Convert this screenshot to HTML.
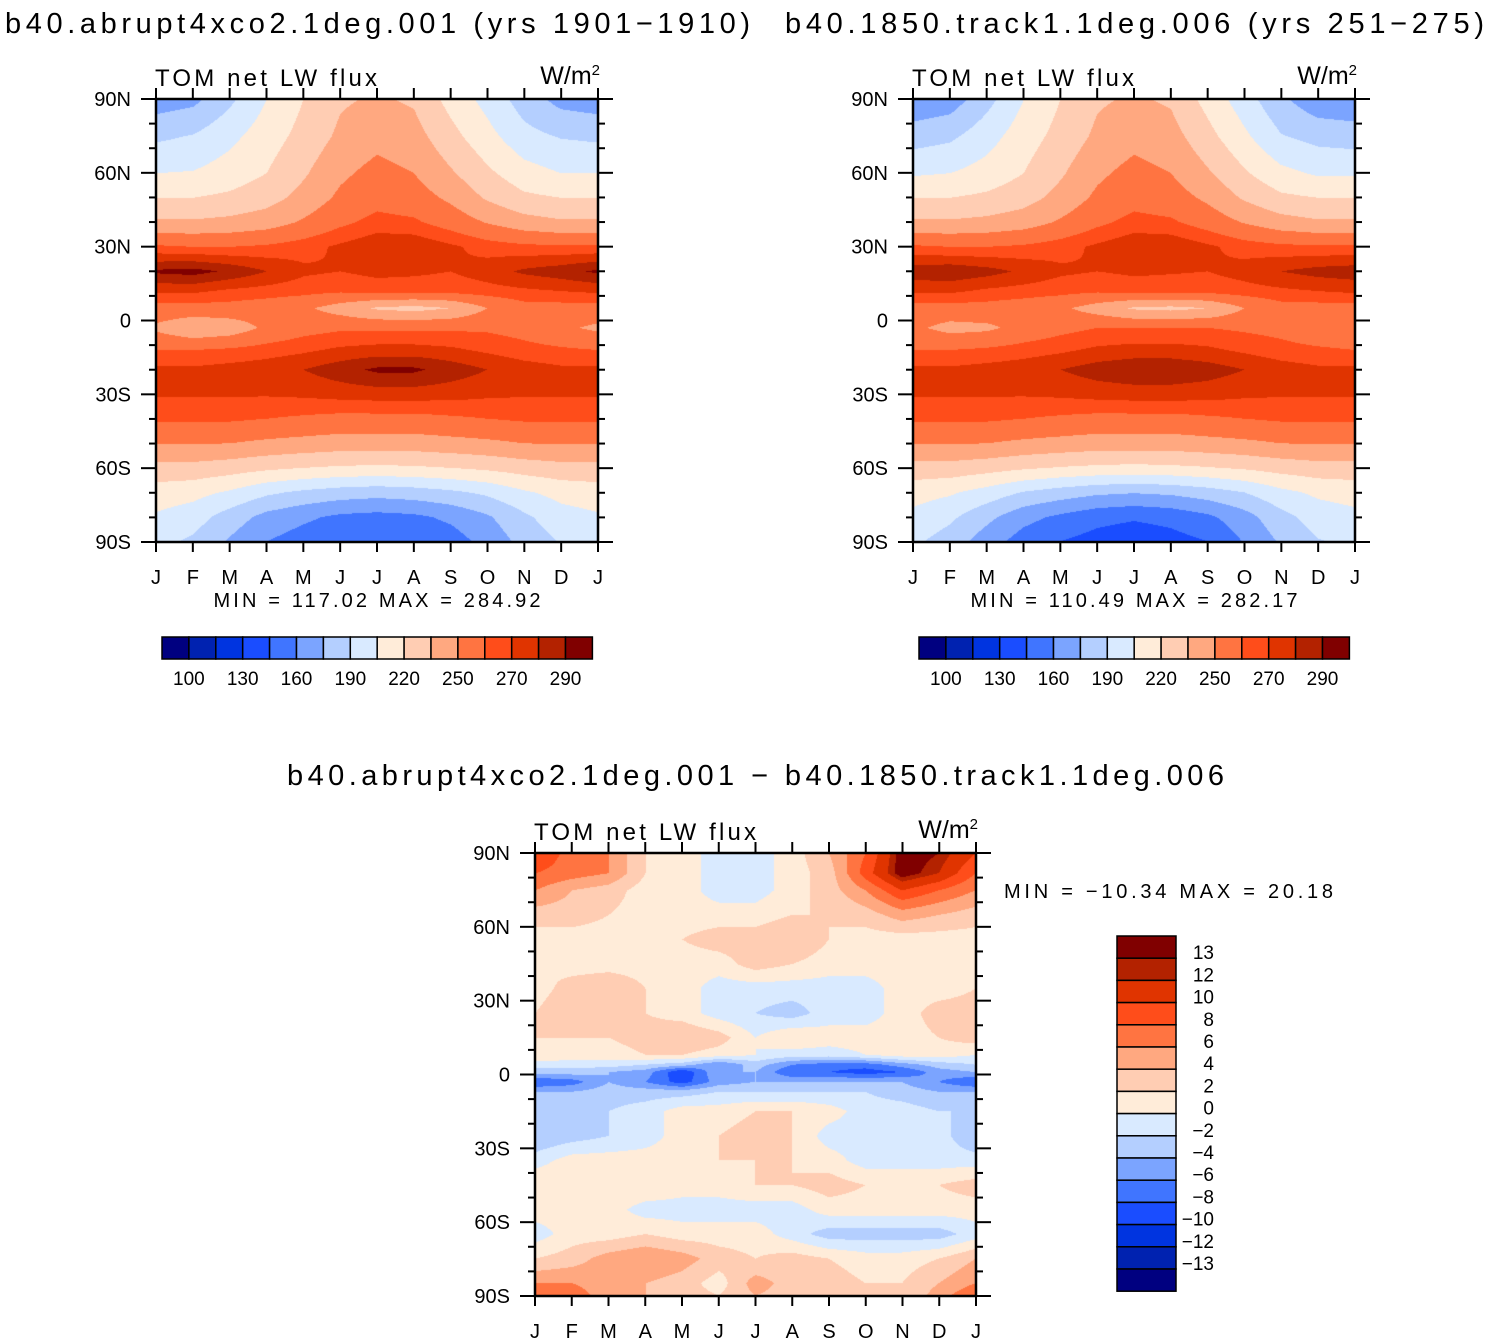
<!DOCTYPE html>
<html><head><meta charset="utf-8">
<style>
body{margin:0;background:#fff;width:1487px;height:1344px;overflow:hidden;position:relative;font-family:"Liberation Sans",sans-serif;}
canvas{position:absolute;}
</style></head><body>
<svg id="svg" width="1487" height="1344" style="position:absolute;left:0;top:0"></svg>
<script>
// ---------- data ----------
const months = ["J","F","M","A","M","J","J","A","S","O","N","D","J"];
const latTicks = ["90N","60N","30N","0","30S","60S","90S"];
const levelsAbs = [90,100,115,130,145,160,175,190,205,220,235,250,260,270,280,290];
const absLabels = ["100","130","160","190","220","250","270","290"];
const levelsDiff = [-13,-12,-10,-8,-6,-4,-2,0,2,4,6,8,10,12,13];
const diffLabels = ["13","12","10","8","6","4","2","0","\u22122","\u22124","\u22126","\u22128","\u221210","\u221212","\u221213"];
const colors = ["#000080","#0022b0","#0034e0","#1a4dff","#4075ff","#7ba4ff","#b4cfff","#d9eaff","#ffecd9","#ffcdb3","#ffa880","#ff7441","#ff4d1a","#e03400","#b32200","#800000"];

const lats1 = [90,75,60,50,40,30,20,12,5,-3,-12,-20,-30,-40,-50,-60,-70,-80,-90];
const field1 = [
[152,156,172,190,205,218,222,218,200,185,168,155,152],
[172,176,186,198,210,223,230,226,210,195,180,174,172],
[190,191,197,205,218,232,240,235,222,208,196,190,190],
[205,205,208,214,225,238,245,242,232,218,208,205,205],
[222,222,224,228,237,247,254,252,244,234,226,222,222],
[252,250,250,252,256,262,268,268,262,256,253,252,252],
[282,284,278,270,262,260,263,262,260,265,272,276,282],
[262,262,258,256,254,252,254,254,254,256,258,260,262],
[245,245,245,242,238,228,218,215,220,235,245,245,245],
[232,222,226,238,245,248,248,248,248,248,245,238,232],
[250,250,252,255,258,262,264,264,262,258,254,252,250],
[262,262,264,266,270,276,282,282,276,270,265,262,262],
[261,261,261,261,262,264,265,265,264,262,261,261,261],
[252,252,252,250,248,246,246,246,248,250,252,252,252],
[236,236,235,232,230,228,228,228,230,232,235,236,236],
[215,215,212,208,205,203,202,203,205,208,212,215,215],
[198,195,188,178,172,168,166,168,172,178,188,195,198],
[188,182,168,155,148,142,140,142,148,158,172,184,188],
[180,172,158,145,138,132,130,132,138,150,165,176,180]];
const lats2 = lats1;
const field2 = [
[148,152,170,190,205,218,222,218,200,182,163,150,148],
[168,172,184,198,210,223,230,226,210,193,176,170,168],
[188,190,196,205,218,232,240,235,222,207,194,188,188],
[205,205,208,214,225,238,245,242,232,218,208,205,205],
[222,222,224,228,237,247,254,252,244,234,226,222,222],
[252,250,250,252,256,262,268,268,262,256,253,252,252],
[276,278,274,268,262,260,262,261,260,264,270,274,276],
[262,262,258,256,254,252,254,254,254,256,258,260,262],
[245,245,245,242,238,228,218,216,220,235,245,245,245],
[238,230,232,240,246,250,250,250,250,248,246,240,238],
[250,250,252,255,258,262,264,264,262,258,254,252,250],
[262,262,264,266,270,275,278,278,275,270,265,262,262],
[261,261,261,261,262,264,265,265,264,262,261,261,261],
[252,252,252,250,248,246,246,246,248,250,252,252,252],
[236,236,235,232,230,228,228,228,230,232,235,236,236],
[214,214,211,207,204,202,201,202,204,207,211,214,214],
[196,192,184,174,168,163,161,163,168,175,186,193,196],
[186,178,164,150,142,135,132,135,142,154,170,182,186],
[178,168,152,138,130,124,120,124,130,146,162,174,178]];
const lats3 = [90,82,75,65,55,45,35,25,15,8,4,1,-3,-7,-15,-25,-35,-45,-55,-65,-75,-85,-90];
const field3 = [
[10,7,6,2,1,-1,-1,1,4,8,14,13,10],
[8,7,6,2,1,-1,-1,1,3,9,14,12,8],
[6,4,3,1,1,-1,-1,1,3,6,10,8,6],
[3,3,2,1,1,1,1,2,2,3,5,4,3],
[1,1,1,1,2,3,3,4,2,1,1,1,1],
[2,1,1,1,1,1,3,2,1,1,1,1,2],
[1,3,4,2,1,-1,-1,-1,-1,-1,1,1,2],
[2,4,3,2,1,-1,-2,-3,-1,-1,1,3,3],
[2,2,2,3,4,3,0,2,1,1,1,2,3],
[2,1,1,2,2,1,0,-1,-1,0,1,1,0],
[-1,-1,-1,-2,-3,-6,-3,-6,-7,-7,-5,-3,-2],
[-3,-3,-4,-5,-10,-4,-4,-8,-8,-9,-8,-5,-4],
[-8,-7,-4,-6,-9,-5,-4,-4,-4,-4,-4,-6,-8],
[-4,-4,-3,-3,-3,-2,-2,-2,-2,-2,-3,-4,-4],
[-3,-3,-2,-1,1,1,2,2,1,-1,-1,-2,-2],
[-4,-3,-2,-1,1,2,3,2,-1,-1,-1,-1,-4],
[-1,1,1,1,1,2,2,2,1,-1,-1,-1,-1],
[2,2,2,2,1,1,2,2,3,2,2,2,3],
[1,1,1,-1,-1,-1,-1,-1,1,1,1,1,1],
[-1,1,1,2,1,1,1,-1,-3,-3,-3,-3,-1],
[2,3,5,6,5,3,2,3,2,1,1,2,4],
[6,6,5,4,3,1,5,3,3,2,2,4,6],
[8,7,5,4,3,2,4,3,3,2,2,5,8]];

const NS="http://www.w3.org/2000/svg";
const svg=document.getElementById('svg');
function el(tag,attrs,name,parent){const e=document.createElementNS(NS,tag);for(const k in attrs)e.setAttribute(k,attrs[k]);


(parent||svg).appendChild(e);return e;}
function txt(x,y,s,size,anchor,name,len,parent){const a={x:x,y:y,'font-size':size,'text-anchor':anchor||'start','font-family':'Liberation Sans, sans-serif'};
 if(len){a.textLength=len;a.lengthAdjust='spacing';}
 const t=el('text',a,name,parent);t.textContent=s;return t;}

function levelIndex(v,levels){let i=0;while(i<levels.length&&v>=levels[i])i++;return i;}
function sample(lats,field,lat,m){
  let r=0;while(r<lats.length-2&&lat<lats[r+1])r++;
  const fy=Math.max(0,Math.min(1,(lats[r]-lat)/(lats[r]-lats[r+1])));
  const c=Math.min(Math.floor(m),11), fx=m-c;
  const a=field[r][c]*(1-fx)+field[r][c+1]*fx, b=field[r+1][c]*(1-fx)+field[r+1][c+1]*fx;
  return a*(1-fy)+b*fy;
}
function hex(h){return [parseInt(h.substr(1,2),16),parseInt(h.substr(3,2),16),parseInt(h.substr(5,2),16)];}
const rgb=colors.map(hex);

function panel(px,py,w,h,lats,field,levels,name,minmax){
  const cv=document.createElement('canvas');cv.width=w;cv.height=h;cv.style.left=px+'px';cv.style.top=py+'px';
  
  
  document.body.appendChild(cv);
  const ctx=cv.getContext('2d');const img=ctx.createImageData(w,h);
  for(let y=0;y<h;y++){const lat=90-180*y/(h-1);
    for(let x=0;x<w;x++){const m=12*x/(w-1);const v=sample(lats,field,lat,m);const c=rgb[levelIndex(v,levels)];
      const o=(y*w+x)*4;img.data[o]=c[0];img.data[o+1]=c[1];img.data[o+2]=c[2];img.data[o+3]=255;}}
  ctx.putImageData(img,0,0);
  const ov=document.createElementNS(NS,'svg');ov.setAttribute('width',1487);ov.setAttribute('height',1344);ov.style.position='absolute';ov.style.left='0';ov.style.top='0';
  
  
  document.body.appendChild(ov);
  const g=ov;
  el('rect',{x:px,y:py,width:w,height:h,fill:'none',stroke:'#000','stroke-width':2.5},name+'-frame',g);
  const xs=m=>px+w*m/12, ys=lat=>py+h*(90-lat)/180;
  for(let i=0;i<13;i++){const x=xs(i);
    el('line',{x1:x,x2:x,y1:py+h,y2:py+h+10,stroke:'#000','stroke-width':2},name+'-xtick',g);
    el('line',{x1:x,x2:x,y1:py-11,y2:py,stroke:'#000','stroke-width':2},name+'-xtick-top',g);
    txt(x,py+h+42,months[i],20,'middle',name+'-month-label',null,g);}
  for(let lat=90;lat>=-90;lat-=10){const y=ys(lat);const maj=lat%30===0;const L=maj?15:7;
    el('line',{x1:px-L,x2:px,y1:y,y2:y,stroke:'#000','stroke-width':2},name+'-ytick',g);
    el('line',{x1:px+w,x2:px+w+L,y1:y,y2:y,stroke:'#000','stroke-width':2},name+'-ytick-right',g);
    if(maj)txt(px-25,y+7,latTicks[(90-lat)/30],20,'end',name+'-lat-label',null,g);}
  txt(px-1,py-13,'TOM  net  LW  flux',24,'start',name+'-variable-title',222,g);
  const t2=el('text',{x:px+w+2,y:py-15,'font-size':25,'text-anchor':'end','font-family':'Liberation Sans, sans-serif'},name+'-units',g);t2.innerHTML='W/m<tspan dy="-9" font-size="15">2</tspan>';
  if(minmax)txt(px+w/2,py+h+65,minmax,20,'middle',name+'-minmax',327,g);
}
function hbar(x0,y0,bw,bh,name){
  for(let i=0;i<16;i++)el('rect',{x:x0+i*bw,y:y0,width:bw,height:bh,fill:colors[i],stroke:'#000','stroke-width':1.5},name+'-box');
  absLabels.forEach((s,k)=>txt(x0+(2*k+1)*bw,y0+48,s,19,'middle',name+'-label'));
}
panel(156,99,442,443,lats1,field1,levelsAbs,'panel-abrupt4xco2','MIN  =  117.02  MAX  =  284.92');
panel(913,99,442,443,lats2,field2,levelsAbs,'panel-1850-control','MIN  =  110.49  MAX  =  282.17');
panel(535,853,441,443,lats3,field3,levelsDiff,'panel-difference',null);
hbar(162,637,26.9,22,'colorbar-abrupt');
hbar(919,637,26.9,22,'colorbar-control');
const vb0=936,vbh=22.2;
for(let i=0;i<16;i++)el('rect',{x:1117,y:vb0+i*vbh,width:59,height:vbh,fill:colors[15-i],stroke:'#000','stroke-width':1.5},'colorbar-diff-box');
diffLabels.forEach((s,k)=>txt(1214,vb0+(k+1)*vbh+1,s,19,'end','colorbar-diff-label'));
txt(5,33,'b40.abrupt4xco2.1deg.001  (yrs  1901\u22121910)',29,'start','title-abrupt4xco2',745);
txt(785,33,'b40.1850.track1.1deg.006  (yrs  251\u2212275)',29,'start','title-1850-control',699);
txt(287,785,'b40.abrupt4xco2.1deg.001  \u2212  b40.1850.track1.1deg.006',29,'start','title-difference',937);
txt(1004,898,'MIN  =  \u221210.34  MAX  =    20.18',20,'start','difference-minmax',329);
</script>
</body></html>
